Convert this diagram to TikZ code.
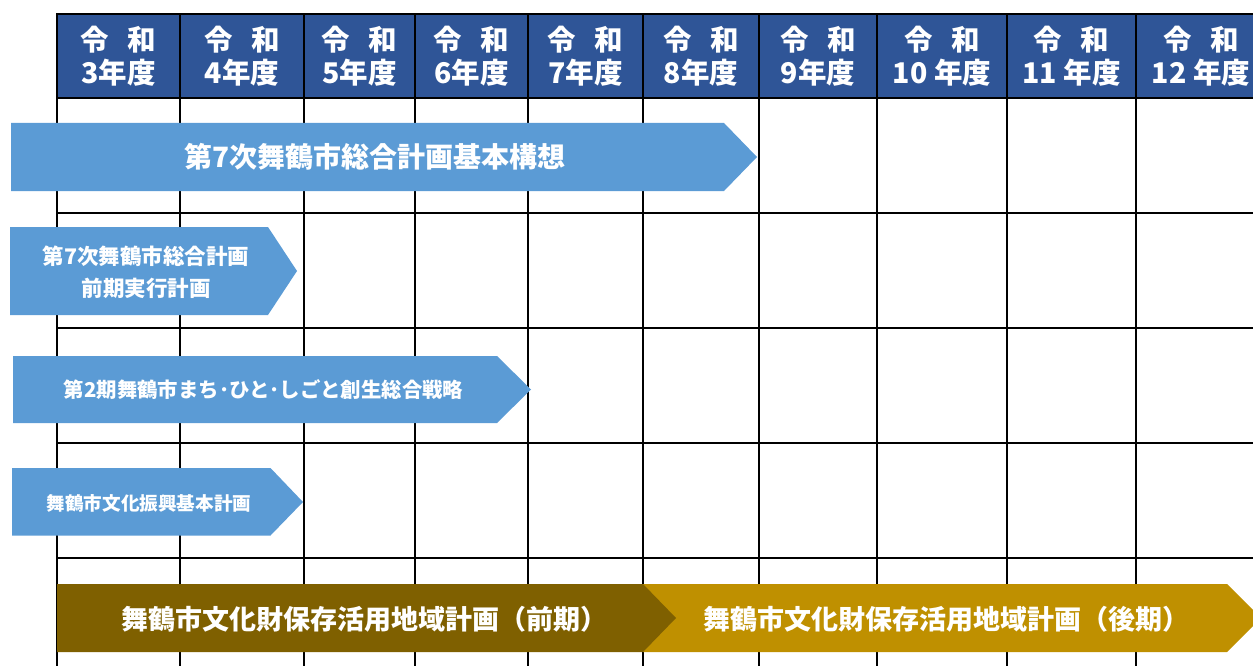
\documentclass[tikz,border=0pt]{standalone}
\usepackage{fontspec}
\newfontfamily\jp{Noto Sans CJK JP}
\definecolor{hdr}{RGB}{47,85,151}
\definecolor{sky}{RGB}{91,155,213}
\definecolor{brn}{RGB}{127,96,0}
\definecolor{gld}{RGB}{191,144,0}
\begin{document}
\begin{tikzpicture}[x=1pt,y=-1pt,
  gridline/.style={line width=1.6pt,black},
  hdrtxt/.style={text=white,inner sep=0pt,font=\jp\bfseries\fontsize{28.5}{30}\selectfont},
  bartxt/.style={text=white,inner sep=0pt,align=center},
  ]
\useasboundingbox (0,0) rectangle (1253,666);
\clip (0,0) rectangle (1253,666);
% header band
\fill[hdr] (57,14) rectangle (1270,98);
% grid
\foreach \y in {14,98,213,328,443,558}
  \draw[gridline] (57,\y) -- (1270,\y);
\foreach \x in {57,180,304,415,528,643,759,877,1007,1136}
  \draw[gridline] (\x,13.2) -- (\x,670);
% header labels
\foreach \cx/\yr [count=\i] in {118.5/{3年度},242/{4年度},359.5/{5年度},471.5/{6年度},585.5/{7年度},701/{8年度},818/{9年度},942/{10 年度},1071.5/{11 年度},1201/{12 年度}}{
  \node[hdrtxt] (ha\i) at (\cx,40) {令\hspace{18.5pt}和};
  \node[hdrtxt] (hb\i) at (\cx,73) {\yr};
}
% blue arrows
\fill[sky] (11,123) -- (724,123) -- (757,157) -- (724,191) -- (11,191) -- cycle;
\node[bartxt,font=\jp\bfseries\fontsize{28}{30}\selectfont] (t1) at (375,157) {第7次舞鶴市総合計画基本構想};
\fill[sky] (10,227) -- (268,227) -- (297,271) -- (268,315) -- (10,315) -- cycle;
\node[bartxt,font=\jp\bfseries\fontsize{21.5}{32}\selectfont] (t2) at (146,272) {第7次舞鶴市総合計画\\前期実行計画};
\fill[sky] (13,356) -- (497,356) -- (531,389.5) -- (497,423) -- (13,423) -- cycle;
\node[bartxt,font=\jp\bfseries\fontsize{20.4}{24}\selectfont] (t3) at (263.5,390) {第2期舞鶴市まち･ひと･しごと創生総合戦略};
\fill[sky] (12,468) -- (270.5,468) -- (303,502) -- (270.5,535.5) -- (12,535.5) -- cycle;
\node[bartxt,font=\jp\bfseries\fontsize{18.6}{22}\selectfont] (t4) at (149,503) {舞鶴市文化振興基本計画};
% bottom arrows
\fill[gld] (643,584) -- (1227,584) -- (1261,618) -- (1227,652) -- (643,652) -- cycle;
\fill[brn] (57,584) -- (643,584) -- (676,618) -- (643,652) -- (57,652) -- cycle;
\node[bartxt,font=\jp\bfseries\fontsize{27}{30}\selectfont] (t5) at (364,619) {舞鶴市文化財保存活用地域計画（前期）};
\node[bartxt,font=\jp\bfseries\fontsize{27}{30}\selectfont] (t6) at (946,619) {舞鶴市文化財保存活用地域計画（後期）};
\end{tikzpicture}
\end{document}
